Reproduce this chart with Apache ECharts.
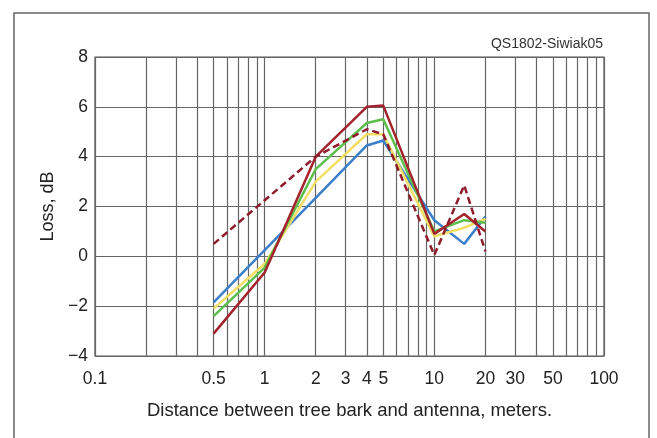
<!DOCTYPE html>
<html>
<head>
<meta charset="utf-8">
<script src="https://cdn.jsdelivr.net/npm/echarts@6/dist/echarts.min.js"></script>
<style>
  html, body { margin: 0; padding: 0; background: #fff; }
  #chart { width: 657px; height: 438px; }
</style>
</head>
<body>
<div id="chart"></div>
<script>
// distances (meters) where the curves were sampled
const distances = [0.5, 1, 2, 4, 5, 10, 15, 20];
const dashedDistances = [0.5, 2, 4, 5, 10, 15, 20];

// loss values, dB
const blueLoss = [-1.85, 0.25, 2.35, 4.45, 4.65, 1.45, 0.5, 1.6];
const greenLoss = [-2.4, -0.45, 3.5, 5.35, 5.5, 1.0, 1.45, 1.35];
const yellowLoss = [-2.1, -0.3, 3.0, 4.9, 4.9, 0.8, 1.15, 1.5];
const redLoss = [-3.1, -0.65, 4.0, 6.0, 6.05, 0.9, 1.7, 1.0];
const redDashedLoss = [0.5, 4.0, 5.1, 4.9, 0.05, 2.85, 0.2];

// axis labels and grid positions
const xTickLabels = [0.1, 0.5, 1, 2, 3, 4, 5, 10, 20, 30, 50, 100];
const xGridValues = [0.1, 0.2, 0.3, 0.4, 0.5, 0.6, 0.7, 0.8, 0.9,
  1, 2, 3, 4, 5, 6, 7, 8, 9, 10, 20, 30, 40, 50, 60, 70, 80, 90, 100];

const font = "'Liberation Sans', Arial, sans-serif";

// x axis is drawn on log10(distance)
const toPoints = (xs, ys) => xs.map((x, i) => [Math.log10(x), ys[i]]);

const chart = echarts.init(document.getElementById('chart'), null, { renderer: 'canvas' });

function line(name, xs, ys, color, type) {
  return {
    name: name,
    type: 'line',
    data: toPoints(xs, ys),
    symbol: 'none',
    lineStyle: { color: color, width: 2.5, type: type || 'solid' },
    z: 3
  };
}

const option = {
  animation: false,
  backgroundColor: '#fff',
  graphic: [
    {
      type: 'rect',
      shape: { x: 14, y: 13, width: 635, height: 440 },
      style: { fill: 'none', stroke: '#666', lineWidth: 1.5 }
    },
    {
      type: 'text',
      right: 54,
      top: 37,
      style: { text: 'QS1802-Siwiak05', font: '14px ' + font, fill: '#333' }
    }
  ],
  grid: { left: 95, right: 53, top: 57, bottom: 82, show: true, borderColor: '#555', borderWidth: 1.2 },
  xAxis: {
    type: 'value',
    min: -1,
    max: 2,
    name: 'Distance between tree bark and antenna, meters.',
    nameLocation: 'middle',
    nameGap: 45,
    nameTextStyle: { fontFamily: font, fontSize: 18.5, color: '#222' },
    axisLine: { show: false },
    axisTick: { show: false, customValues: xGridValues.map(v => Math.log10(v)) },
    axisLabel: {
      customValues: xTickLabels.map(v => Math.log10(v)),
      formatter: v => String(+Math.pow(10, v).toPrecision(2)),
      fontFamily: font,
      fontSize: 17.5,
      color: '#222',
      margin: 14
    },
    splitLine: { show: true, lineStyle: { color: '#666', width: 1.2 } }
  },
  yAxis: {
    type: 'value',
    min: -4,
    max: 8,
    interval: 2,
    name: 'Loss, dB',
    nameLocation: 'middle',
    nameGap: 34,
    nameTextStyle: { fontFamily: font, fontSize: 18, color: '#222' },
    axisLine: { show: false },
    axisTick: { show: false },
    axisLabel: {
      formatter: v => (v < 0 ? '\u2212' + Math.abs(v) : String(v)),
      fontFamily: font,
      fontSize: 17.5,
      color: '#222',
      margin: 7
    },
    splitLine: { show: true, lineStyle: { color: '#666', width: 1.2 } }
  },
  series: [
    line('blue', distances, blueLoss, '#3b7fcb'),
    line('yellow', distances, yellowLoss, '#f1de62'),
    line('green', distances, greenLoss, '#5cbf4c'),
    line('red', distances, redLoss, '#a3232c'),
    line('red dashed', dashedDistances, redDashedLoss, '#8e1c2c', [7, 4])
  ]
};

chart.setOption(option);
</script>
</body>
</html>
